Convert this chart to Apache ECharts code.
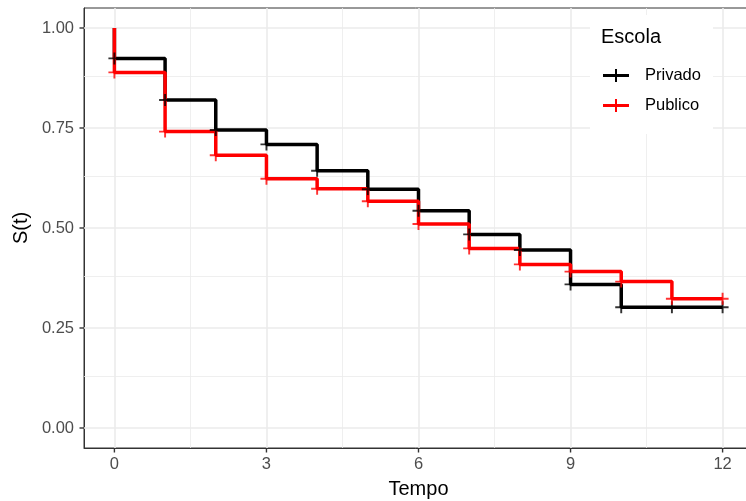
<!DOCTYPE html>
<html>
<head>
<meta charset="utf-8">
<script src="https://cdn.jsdelivr.net/npm/echarts@6/dist/echarts.min.js"></script>
<style>html,body{margin:0;padding:0;background:#fff}#chart{width:746px;height:501px}</style>
</head>
<body>
<div id="chart"></div>
<script>
// ---- data ----
const times = [0, 1, 2, 3, 4, 5, 6, 7, 8, 9, 10, 11, 12];
const privado = [0.924, 0.820, 0.745, 0.709, 0.643, 0.597, 0.543, 0.484, 0.445, 0.359, 0.302, 0.302, 0.302];
const publico = [0.889, 0.741, 0.682, 0.623, 0.598, 0.567, 0.510, 0.449, 0.409, 0.391, 0.366, 0.323, 0.323];
const startSurvival = 1.0;
const xTicks = [0, 3, 6, 9, 12];
const xMinor = [1.5, 4.5, 7.5, 10.5];
const yTicks = [0, 0.25, 0.5, 0.75, 1.0];
const yMinor = [0.125, 0.375, 0.625, 0.875];
const groups = ['Privado', 'Publico'];
const colors = {Privado: '#000000', Publico: '#ff0000'};

const X_MIN = -0.6, X_MAX = 12.6, Y_MIN = -0.05, Y_MAX = 1.05;
const FONT = '"Liberation Sans", Arial, sans-serif';
const plusPath = 'path://M4.2,0h1.6v4.2h4.2v1.6h-4.2v4.2h-1.6v-4.2h-4.2v-1.6h4.2z';
const legendIcon = 'path://M0,5h26v3h-26z M12,0h2v13h-2z';

function stepData(vals) {
  const d = [[times[0], startSurvival]];
  times.forEach((t, i) => d.push([t, vals[i]]));
  return d;
}
function markData(vals) { return times.map((t, i) => [t, vals[i]]); }

const valuesByGroup = {Privado: privado, Publico: publico};

const series = [
  { type: 'line', data: [], silent: true, z: 1,
    markLine: { silent: true, z: 1, symbol: ['none', 'none'], label: {show: false}, animation: false,
      lineStyle: {color: '#ebebeb', width: 0.8, type: 'solid'},
      data: xMinor.map(v => ({xAxis: v})).concat(yMinor.map(v => ({yAxis: v}))) } },
  { type: 'line', data: [], silent: true, z: 1,
    markLine: { silent: true, z: 1, symbol: ['none', 'none'], label: {show: false}, animation: false,
      lineStyle: {color: '#ebebeb', width: 1.6, type: 'solid'},
      data: xTicks.map(v => ({xAxis: v})).concat(yTicks.map(v => ({yAxis: v}))) } }
];
groups.forEach(g => {
  series.push({ name: g, type: 'line', step: 'end', data: stepData(valuesByGroup[g]),
    showSymbol: false, symbol: 'none', z: 3, color: colors[g],
    lineStyle: {color: colors[g], width: 3.5}, itemStyle: {color: colors[g]} });
});
groups.forEach(g => {
  series.push({ name: g, type: 'scatter', data: markData(valuesByGroup[g]),
    symbol: plusPath, symbolSize: 12, z: 3.5, color: colors[g], itemStyle: {color: colors[g]} });
});

const chart = echarts.init(document.getElementById('chart'), null, {renderer: 'canvas'});
chart.setOption({
  animation: false,
  backgroundColor: '#ffffff',
  grid: { left: 84, top: 8, width: 669, height: 440, outerBoundsMode: 'none', show: true, borderColor: '#333333', borderWidth: 1, backgroundColor: 'transparent', containLabel: false },
  xAxis: {
    type: 'value', min: X_MIN, max: X_MAX,
    name: 'Tempo', nameLocation: 'middle', nameGap: 31,
    nameTextStyle: {fontFamily: FONT, fontSize: 20, color: '#000'},
    axisLine: {show: true, onZero: false, lineStyle: {color: '#333333', width: 1}},
    axisTick: {show: false},
    axisLabel: {show: true, customValues: xTicks, margin: 8, fontFamily: FONT, fontSize: 16.5, color: '#4d4d4d'},
    splitLine: {show: false}, minorSplitLine: {show: false}
  },
  yAxis: {
    type: 'value', min: Y_MIN, max: Y_MAX,
    name: 'S(t)', nameLocation: 'middle', nameGap: 52, nameRotate: 90,
    nameTextStyle: {fontFamily: FONT, fontSize: 20, color: '#000'},
    axisLine: {show: true, onZero: false, lineStyle: {color: '#333333', width: 1}},
    axisTick: {show: false},
    axisLabel: {show: true, customValues: yTicks, margin: 10, fontFamily: FONT, fontSize: 16.5, color: '#4d4d4d',
      formatter: v => v.toFixed(2)},
    splitLine: {show: false}, minorSplitLine: {show: false}
  },
  legend: {
    show: true, orient: 'vertical', left: 590, top: 15, z: 6,
    padding: [52, 12, 20, 13], backgroundColor: '#ffffff',
    itemWidth: 26, itemHeight: 13, itemGap: 13,
    data: groups.map(g => ({name: g, icon: legendIcon})),
    textStyle: {fontFamily: FONT, fontSize: 16.5, color: '#000', padding: [0, 0, 0, 11]}
  },
  series: series
});

// axis tick marks placed through the library's own coordinate conversion
const TICK_LEN = 4.5;
const tickLines = [];
xTicks.forEach(v => {
  const p = chart.convertToPixel({gridIndex: 0}, [v, Y_MIN]);
  tickLines.push({type: 'line', z: 50, silent: true,
    shape: {x1: p[0], y1: p[1], x2: p[0], y2: p[1] + TICK_LEN},
    style: {stroke: '#333333', lineWidth: 1.4}});
});
yTicks.forEach(v => {
  const p = chart.convertToPixel({gridIndex: 0}, [X_MIN, v]);
  tickLines.push({type: 'line', z: 50, silent: true,
    shape: {x1: p[0] - TICK_LEN, y1: p[1], x2: p[0], y2: p[1]},
    style: {stroke: '#333333', lineWidth: 1.4}});
});
chart.setOption({
  graphic: tickLines.concat([{
    type: 'text', z: 100,
    style: {text: 'Escola', x: 601, y: 37, fontFamily: FONT, fontSize: 20, fill: '#000', verticalAlign: 'middle', align: 'left'}
  }])
});
</script>
</body>
</html>
